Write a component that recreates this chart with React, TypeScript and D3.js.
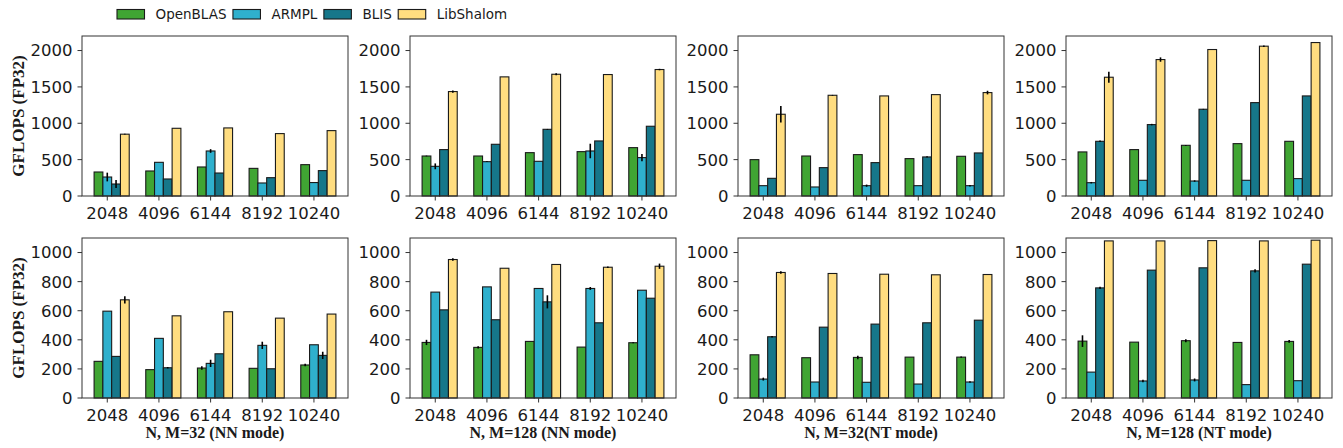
import React, { useEffect, useRef } from 'react';
import * as d3 from 'd3';

const sizes = ['2048', '4096', '6144', '8192', '10240'];
const libs = ['OpenBLAS', 'ARMPL', 'BLIS', 'LibShalom'];
const colors = ['#40a533', '#2fb0cd', '#16778a', '#ffdd80'];

// rows: OpenBLAS, ARMPL, BLIS, LibShalom ; cols: sizes
const m32nnTop = [
  [330, 344, 399, 380, 431],
  [261, 463, 619, 179, 185],
  [165, 234, 316, 252, 349],
  [850, 931, 936, 858, 899],
];
const m32nnTopErr = [
  [0, 0, 0, 0, 0],
  [60, 0, 25, 0, 0],
  [55, 0, 0, 0, 0],
  [5, 0, 0, 0, 0],
];
const m128nnTop = [
  [550, 550, 596, 610, 665],
  [408, 472, 477, 619, 528],
  [638, 711, 917, 757, 959],
  [1436, 1638, 1674, 1670, 1739],
];
const m128nnTopErr = [
  [5, 0, 0, 0, 0],
  [40, 5, 0, 100, 50],
  [0, 0, 5, 0, 0],
  [15, 0, 15, 0, 10],
];
const m32ntTop = [
  [500, 550, 569, 514, 546],
  [142, 124, 142, 142, 142],
  [243, 390, 459, 537, 592],
  [1124, 1385, 1376, 1394, 1422],
];
const m32ntTopErr = [
  [0, 0, 0, 0, 0],
  [0, 0, 15, 0, 10],
  [0, 0, 0, 8, 0],
  [115, 5, 0, 0, 25],
];
const m128ntTop = [
  [606, 638, 697, 720, 752],
  [183, 216, 206, 216, 239],
  [752, 982, 1193, 1284, 1376],
  [1633, 1876, 2014, 2060, 2110],
];
const m128ntTopErr = [
  [0, 0, 5, 0, 0],
  [10, 0, 10, 0, 0],
  [10, 10, 5, 0, 0],
  [75, 30, 0, 10, 0],
];

const m32nnBot = [
  [252, 195, 206, 204, 227],
  [597, 410, 238, 362, 366],
  [286, 208, 304, 201, 293],
  [675, 565, 593, 549, 577],
];
const m32nnBotErr = [
  [0, 0, 12, 0, 8],
  [0, 0, 25, 25, 0],
  [0, 5, 0, 0, 25],
  [25, 0, 0, 0, 0],
];
const m128nnBot = [
  [382, 348, 389, 350, 380],
  [728, 764, 753, 753, 741],
  [606, 538, 661, 517, 686],
  [952, 892, 918, 899, 906],
];
const m128nnBotErr = [
  [18, 8, 0, 0, 4],
  [0, 0, 0, 10, 0],
  [0, 0, 45, 0, 0],
  [8, 0, 0, 5, 18],
];
const m32ntBot = [
  [297, 277, 279, 281, 281],
  [130, 110, 108, 96, 110],
  [421, 487, 508, 517, 535],
  [863, 856, 851, 847, 849],
];
const m32ntBotErr = [
  [0, 0, 12, 0, 5],
  [10, 0, 0, 0, 5],
  [5, 0, 0, 0, 0],
  [8, 0, 0, 0, 0],
];
const m128ntBot = [
  [391, 384, 394, 382, 389],
  [178, 117, 124, 92, 119],
  [757, 879, 895, 874, 920],
  [1080, 1080, 1082, 1080, 1085],
];
const m128ntBotErr = [
  [40, 0, 10, 0, 10],
  [0, 8, 10, 0, 0],
  [7, 0, 0, 12, 0],
  [0, 0, 0, 0, 0],
];

const topTicks = [0, 500, 1000, 1500, 2000];
const botTicks = [0, 200, 400, 600, 800, 1000];
const xLabels = ['N, M=32 (NN mode)', 'N, M=128 (NN mode)', 'N, M=32(NT mode)', 'N, M=128 (NT mode)'];

const panels = [
  { vals: m32nnTop, errs: m32nnTopErr, row: 0, col: 0 },
  { vals: m128nnTop, errs: m128nnTopErr, row: 0, col: 1 },
  { vals: m32ntTop, errs: m32ntTopErr, row: 0, col: 2 },
  { vals: m128ntTop, errs: m128ntTopErr, row: 0, col: 3 },
  { vals: m32nnBot, errs: m32nnBotErr, row: 1, col: 0 },
  { vals: m128nnBot, errs: m128nnBotErr, row: 1, col: 1 },
  { vals: m32ntBot, errs: m32ntBotErr, row: 1, col: 2 },
  { vals: m128ntBot, errs: m128ntBotErr, row: 1, col: 3 },
];

const W = 1343;
const H = 448;

export default function App() {
  const svgRef = useRef<SVGSVGElement | null>(null);

  useEffect(() => {
    const svg = d3.select(svgRef.current);
    svg.selectAll('*').remove();

    const lefts = [82, 410, 738, 1066];
    const pw = 266;
    const tops = [36, 238];
    const ph = 160;
    const bw = 0.17;
    const span = 4 + 4 * bw;
    const tickFont = 'DejaVu Sans, sans-serif';
    const serif = 'Liberation Serif, Times New Roman, serif';

    panels.forEach(p => {
      const x0 = lefts[p.col];
      const y0 = tops[p.row];
      const x = d3.scaleLinear()
        .domain([-1.5 * bw - 0.05 * span, 4 + 2.5 * bw + 0.05 * span])
        .range([x0, x0 + pw]);
      const yMax = p.row === 0 ? 2200 : 1100;
      const y = d3.scaleLinear().domain([0, yMax]).range([y0 + ph, y0]);
      const ticks = p.row === 0 ? topTicks : botTicks;
      const g = svg.append('g');

      p.vals.forEach((series, k) => {
        series.forEach((v, i) => {
          const cx = x(i + (k - 1) * bw);
          const half = (x(bw) - x(0)) / 2;
          g.append('rect')
            .attr('x', cx - half)
            .attr('y', y(v))
            .attr('width', half * 2)
            .attr('height', y(0) - y(v))
            .attr('fill', colors[k])
            .attr('stroke', '#1a1a1a')
            .attr('stroke-width', 1.1);
        });
      });

      p.errs.forEach((series, k) => {
        series.forEach((e, i) => {
          if (!e) return;
          const cx = x(i + (k - 1) * bw);
          const v = p.vals[k][i];
          g.append('line')
            .attr('x1', cx).attr('x2', cx)
            .attr('y1', y(v - e)).attr('y2', y(v + e))
            .attr('stroke', '#000')
            .attr('stroke-width', 1.6);
        });
      });

      g.append('rect')
        .attr('x', x0).attr('y', y0)
        .attr('width', pw).attr('height', ph)
        .attr('fill', 'none')
        .attr('stroke', '#333')
        .attr('stroke-width', 1);

      ticks.forEach(t => {
        g.append('line')
          .attr('x1', x0 - 4.5).attr('x2', x0)
          .attr('y1', y(t)).attr('y2', y(t))
          .attr('stroke', '#333');
        g.append('text')
          .attr('x', x0 - 9.5)
          .attr('y', y(t))
          .attr('dy', '0.36em')
          .attr('text-anchor', 'end')
          .attr('font-family', tickFont)
          .attr('font-size', 16.5)
          .attr('fill', '#1a1a1a')
          .text(t);
      });

      sizes.forEach((s, i) => {
        g.append('line')
          .attr('x1', x(i)).attr('x2', x(i))
          .attr('y1', y0 + ph).attr('y2', y0 + ph + 4.5)
          .attr('stroke', '#333');
        g.append('text')
          .attr('x', x(i))
          .attr('y', y0 + ph + 22.5)
          .attr('text-anchor', 'middle')
          .attr('font-family', tickFont)
          .attr('font-size', 16.5)
          .attr('fill', '#1a1a1a')
          .text(s);
      });

      if (p.col === 0) {
        g.append('text')
          .attr('transform', `translate(24,${y0 + ph / 2}) rotate(-90)`)
          .attr('text-anchor', 'middle')
          .attr('font-family', serif)
          .attr('font-weight', 'bold')
          .attr('font-size', 17)
          .attr('fill', '#1a1a1a')
          .text('GFLOPS (FP32)');
      }
      if (p.row === 1) {
        g.append('text')
          .attr('x', x0 + pw / 2)
          .attr('y', 438)
          .attr('text-anchor', 'middle')
          .attr('font-family', serif)
          .attr('font-weight', 'bold')
          .attr('font-size', 16)
          .attr('fill', '#1a1a1a')
          .text(xLabels[p.col]);
      }
    });

    // legend
    const ctx = document.createElement('canvas').getContext('2d');
    const legFont = 13.5;
    if (ctx) ctx.font = `${legFont}px DejaVu Sans`;
    let lx = 117;
    const legend = svg.append('g');
    libs.forEach((name, k) => {
      legend.append('rect')
        .attr('x', lx).attr('y', 9.5)
        .attr('width', 27.5).attr('height', 9.5)
        .attr('fill', colors[k])
        .attr('stroke', '#1a1a1a')
        .attr('stroke-width', 1.1);
      legend.append('text')
        .attr('x', lx + 38.5)
        .attr('y', 19)
        .attr('font-family', tickFont)
        .attr('font-size', legFont)
        .attr('fill', '#1a1a1a')
        .text(name);
      const tw = ctx ? ctx.measureText(name).width : name.length * 8;
      lx += 38.5 + tw + 6.5;
    });
  }, []);

  return (
    <svg
      ref={svgRef}
      width={W}
      height={H}
      style={{ position: 'absolute', left: 0, top: 0, background: '#fff' }}
    />
  );
}
